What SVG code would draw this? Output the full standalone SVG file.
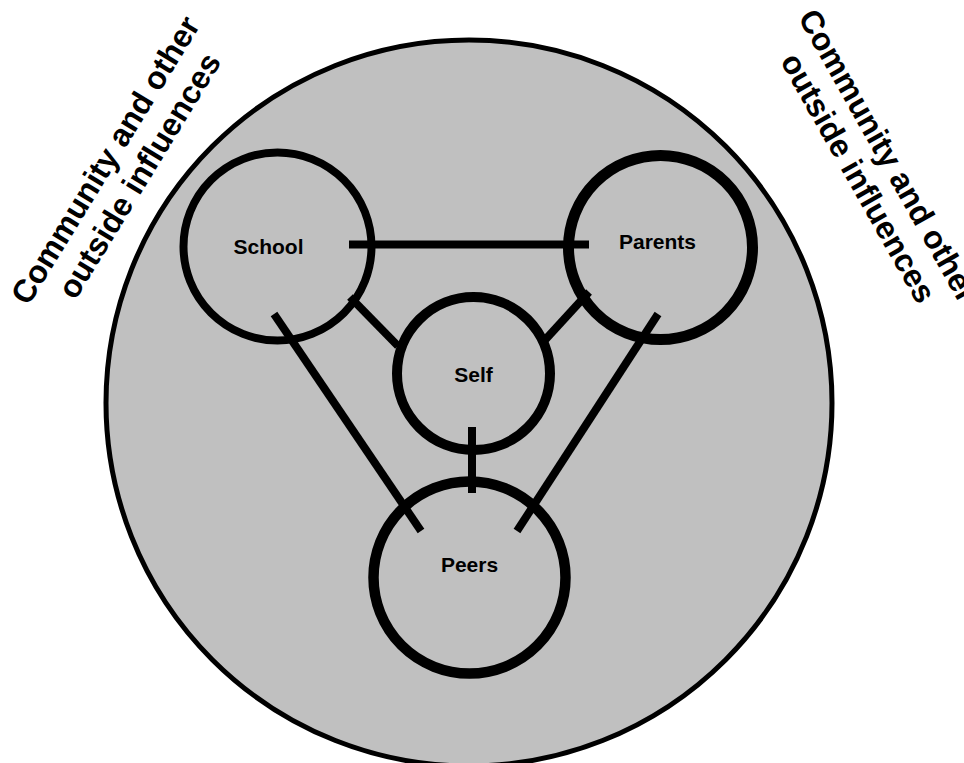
<svg xmlns="http://www.w3.org/2000/svg" width="964" height="763" viewBox="0 0 964 763">
  <style>
    .ring { fill: none; stroke: #000; }
    .label { font-family: "Liberation Sans", Arial, sans-serif; font-weight: bold; font-size: 21px; fill: #000; text-anchor: middle; }
    .outer { font-family: "Liberation Sans", Arial, sans-serif; font-weight: bold; font-size: 32px; fill: #000; text-anchor: middle; }
    .link { stroke: #000; stroke-width: 8; stroke-linecap: butt; fill: none; }
  </style>

  <rect width="964" height="763" fill="#ffffff"/>

  <!-- surrounding community circle -->
  <g id="community">
    <circle cx="469" cy="403" r="363" fill="#c0c0c0" stroke="#000" stroke-width="5"/>
  </g>

  <!-- outside labels -->
  <g id="label-left">
    <text class="outer" transform="translate(117,162) rotate(-58.5)">
      <tspan x="0" y="0">Community and other</tspan>
      <tspan x="0" y="37">outside influences</tspan>
    </text>
  </g>
  <g id="label-right">
    <text class="outer" transform="translate(881,165) rotate(60.5)">
      <tspan x="0" y="0">Community and other</tspan>
      <tspan x="0" y="37">outside influences</tspan>
    </text>
  </g>

  <g id="school">
    <circle class="ring" cx="277.5" cy="246.5" r="94" stroke-width="8"/>
    <text class="label" x="268.5" y="254">School</text>
  </g>

  <g id="parents">
    <circle class="ring" cx="660.5" cy="247.5" r="92" stroke-width="11"/>
    <text class="label" x="657.5" y="249">Parents</text>
  </g>

  <g id="self">
    <circle class="ring" cx="473.5" cy="373.5" r="76.5" stroke-width="10"/>
    <text class="label" x="473.5" y="381.5">Self</text>
  </g>

  <g id="peers">
    <circle class="ring" cx="469.5" cy="577.5" r="96" stroke-width="10.5"/>
    <text class="label" x="469.5" y="571.5">Peers</text>
  </g>

  <!-- connectors -->
  <g id="connectors">
    <line class="link" x1="349" y1="244.5" x2="589" y2="244.5"/>
    <line class="link" x1="350" y1="297" x2="398" y2="346"/>
    <line class="link" x1="589" y1="292" x2="545" y2="340"/>
    <line class="link" x1="472" y1="427" x2="472" y2="493"/>
    <line class="link" x1="274" y1="314" x2="421" y2="531"/>
    <line class="link" x1="658" y1="314" x2="517" y2="531"/>
  </g>
</svg>
